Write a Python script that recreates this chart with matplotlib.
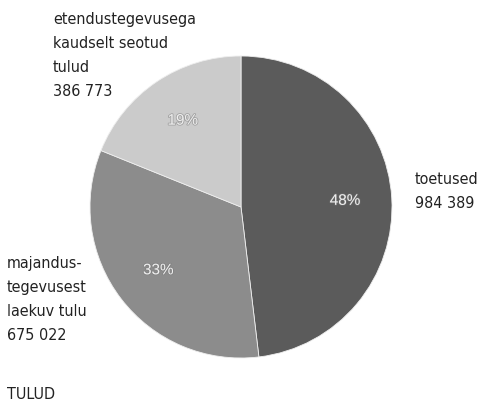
import matplotlib.pyplot as plt
import matplotlib.patheffects as pe

# andmed
nimed = ["toetused", "majandus-\ntegevusest\nlaekuv tulu", "etendustegevusega\nkaudselt seotud\ntulud"]
summad = [984389, 675022, 386773]
summa_tekst = ["984 389", "675 022", "386 773"]
varvid = ["#5b5b5b", "#8c8c8c", "#cbcbcb"]

W, H = 479, 402
fig = plt.figure(figsize=(W / 100, H / 100), dpi=100)
ax = fig.add_axes([0, 0, 1, 1])

wedges, _, pct = ax.pie(
    summad,
    colors=varvid,
    startangle=90,
    counterclock=False,
    center=(241, H - 208),
    radius=151,
    autopct="%1.0f%%",
    pctdistance=0.69,
    wedgeprops=dict(edgecolor="#eeeeee", linewidth=0.6),
    textprops=dict(color="#eeeeee", fontsize=11, family="Liberation Sans"),
    frame=True,
)
for t in pct:
    t.set_path_effects([pe.withStroke(linewidth=1.2, foreground="#777777", alpha=0.5)])
ax.set_xlim(0, W)
ax.set_ylim(0, H)
ax.set_aspect("equal")
ax.axis("off")

fonti = dict(fontsize=11.5, family="DejaVu Sans", fontstretch="condensed", color="#222222",
             va="top", ha="left", linespacing=1.74)

def silt(x, y, s):
    fig.text(x / W, 1 - y / H, s, **fonti)

silt(53, 12, nimed[2] + "\n" + summa_tekst[2])
silt(415, 172, nimed[0] + "\n" + summa_tekst[0])
silt(7, 256, nimed[1] + "\n" + summa_tekst[1])
silt(7, 387, "TULUD")

fig.savefig("out.png", dpi=100)
